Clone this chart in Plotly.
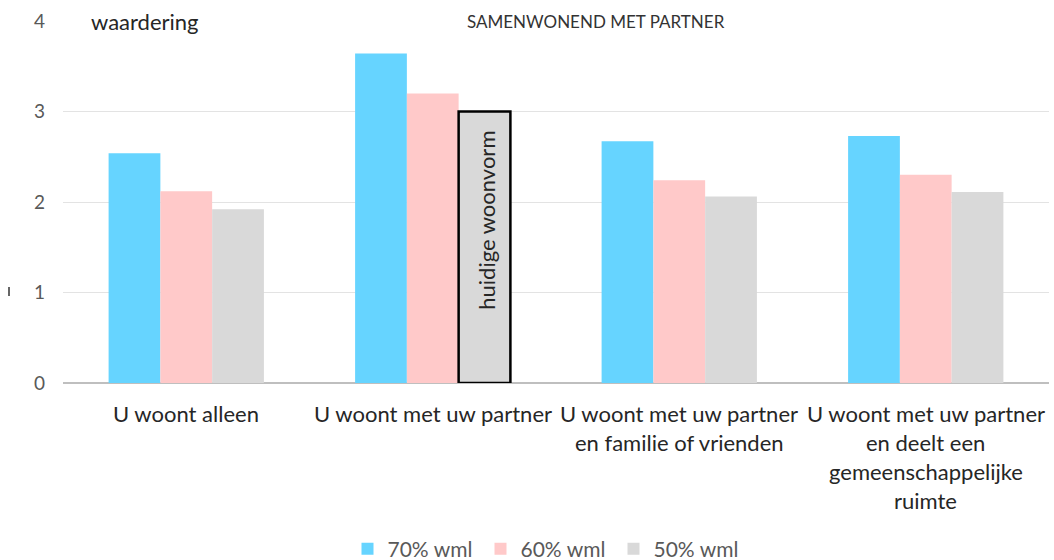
import plotly.graph_objects as go

categories = [
    "U woont alleen",
    "U woont met uw partner",
    "U woont met uw partner<br>en familie of vrienden",
    "U woont met uw partner<br>en deelt een<br>gemeenschappelijke<br>ruimte",
]
wml70 = [2.54, 3.64, 2.67, 2.73]
wml60 = [2.12, 3.20, 2.24, 2.30]
wml50 = [1.92, 3.00, 2.06, 2.11]
series_names = ["70% wml", "60% wml", "50% wml"]
colors = ["#66D4FF", "#FFC9C9", "#D9D9D9"]
highlight_index = 1
y_ticks = [0, 1, 2, 3, 4]

W, H = 1054, 560
L, R, T, B = 63, 5, 21, 177
PW, PH = W - L - R, H - T - B

fig = go.Figure()
for name, vals, col in zip(series_names, [wml70, wml60, wml50], colors):
    lw = [0] * len(vals)
    if name == "50% wml":
        lw[highlight_index] = 2.5
    fig.add_trace(go.Bar(
        x=categories, y=vals, name=name,
        marker=dict(color=col, line=dict(color="#000000", width=lw)),
    ))

fig.update_layout(
    width=W, height=H,
    margin=dict(l=L, r=R, t=T, b=B),
    paper_bgcolor="white", plot_bgcolor="white",
    barmode="group", bargap=0.37, bargroupgap=0,
    font=dict(family="Lato", color="#333333"),
    showlegend=True,
    legend=dict(orientation="h", x=547 / W, xanchor="center", xref="container",
                y=(H - 549) / H, yanchor="middle", yref="container",
                font=dict(size=21, color="#595959"), itemwidth=30,
                entrywidth=88, traceorder="normal"),
    xaxis=dict(showticklabels=False, showgrid=False, showline=False, zeroline=False),
    yaxis=dict(range=[0, 4], tickvals=y_ticks, showgrid=True, gridcolor="#E3E3E3",
               gridwidth=1, zeroline=True, zerolinecolor="#BFBFBF", zerolinewidth=1.5,
               tickfont=dict(size=19, color="#595959"), ticks="", ticklabelstandoff=17),
)

# category labels (multi-line, wider line spacing)
for cat in categories:
    for i, line in enumerate(cat.split("<br>")):
        fig.add_annotation(x=cat, y=0, xref="x", yref="y", text=line, showarrow=False,
                           yanchor="middle", yshift=-30 - 29 * i,
                           font=dict(size=22, color="#262626"))

# text inside the highlighted bar
fig.add_annotation(x=categories[highlight_index], y=wml50[highlight_index], xref="x", yref="y",
                   text="huidige woonvorm", textangle=-90, showarrow=False, xshift=53,
                   yanchor="top", yshift=-17,
                   font=dict(size=22, color="#262626"))

fig.add_annotation(x=(89 - L) / PW, y=1.0, xref="paper", yref="paper",
                   text="waardering", showarrow=False, xanchor="left", yanchor="middle",
                   font=dict(size=22, color="#262626"))
fig.add_annotation(x=(596 - L) / PW, y=1.0, xref="paper", yref="paper",
                   text="SAMENWONEND MET PARTNER", showarrow=False,
                   xanchor="center", yanchor="middle",
                   font=dict(size=17, color="#333333"))
fig.add_shape(type="line", xref="paper", yref="paper",
              x0=(9 - L) / PW, x1=(9 - L) / PW,
              y0=(T + PH - 287) / PH, y1=(T + PH - 296) / PH,
              line=dict(color="#333333", width=1.5))

fig.write_html("out.html", config={"displayModeBar": False},
               post_script="document.body.style.margin='0px';")
